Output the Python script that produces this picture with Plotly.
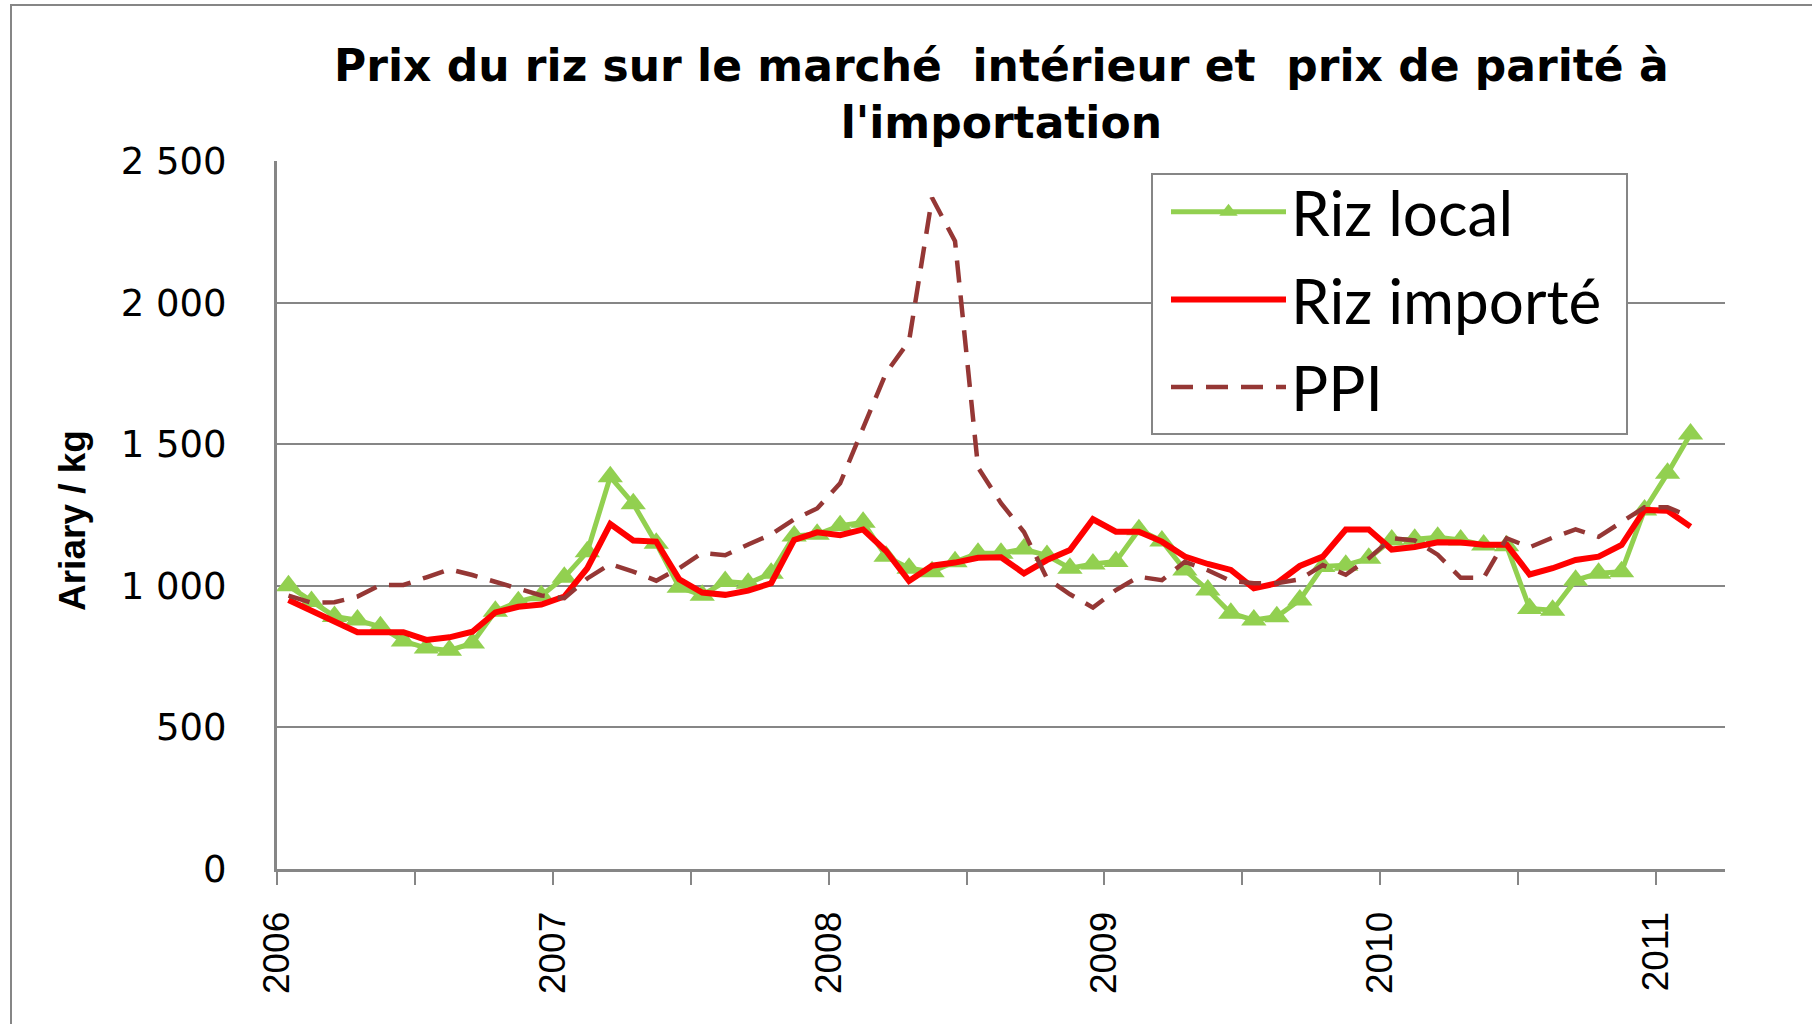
import plotly.graph_objects as go

# ---- data (monthly, Jan 2006 -> Feb 2011) ----
months = [f"{y}-{m:02d}" for y in range(2006, 2012) for m in range(1, 13)][:62]

riz_local = [1000, 945, 892, 879, 855, 805, 780, 772, 798, 910, 944, 965,
             1030, 1120, 1385, 1290, 1150, 995, 967, 1015, 1009, 1044, 1176, 1182,
             1212, 1224, 1104, 1062, 1050, 1085, 1115, 1115, 1130, 1107, 1062, 1077,
             1086, 1198, 1158, 1056, 985, 903, 879, 891, 950, 1068, 1073, 1097,
             1162, 1164, 1171, 1162, 1144, 1141, 920, 914, 1020, 1044, 1050, 1268,
             1397, 1536]

riz_importe = [950, 912, 873, 836, 836, 836, 809, 818, 838, 906, 926, 934,
               962, 1062, 1218, 1160, 1156, 1023, 976, 968, 983, 1009, 1162, 1189,
               1179, 1199, 1123, 1017, 1071, 1082, 1099, 1101, 1044, 1091, 1126, 1235,
               1191, 1191, 1156, 1103, 1077, 1056, 991, 1009, 1070, 1103, 1199, 1199,
               1128, 1137, 1154, 1153, 1145, 1145, 1040, 1062, 1091, 1103, 1144, 1268,
               1265, 1209]

ppi = [965, 940, 942, 962, 1003, 1003, 1030, 1058, 1038, 1015, 993, 966,
       956, 1026, 1077, 1050, 1018, 1062, 1116, 1108, 1146, 1181, 1235, 1273,
       1362, 1560, 1752, 1864, 2370, 2217, 1418, 1292, 1190, 1026, 970, 923,
       985, 1032, 1020, 1085, 1055, 1017, 1009, 1009, 1023, 1073, 1039, 1097,
       1168, 1160, 1110, 1028, 1028, 1168, 1136, 1170, 1199, 1173, 1226, 1277,
       1277, 1244]

year_labels = ["2006", "2007", "2008", "2009", "2010", "2011"]
y_tick_vals = [0, 500, 1000, 1500, 2000, 2500]
y_tick_text = ["0", "500", "1 000", "1 500", "2 000", "2 500"]

title_text = "Prix du riz sur le marché  intérieur et  prix de parité à<br>l'importation"
y_title = "Ariary / kg"

# positions: monthly points centred in each month slot
x_pos = [i + 0.5 for i in range(len(months))]
year_pos = [12 * k for k in range(len(year_labels))]

GREEN = "#92D050"
RED = "#FF0000"
BROWN = "#953735"
GRID = "#868686"

fig = go.Figure()
fig.add_trace(go.Scatter(
    x=x_pos, y=riz_local, customdata=months, name="Riz local",
    mode="lines+markers", legendgroup="a",
    line=dict(color=GREEN, width=5),
    marker=dict(symbol="triangle-up", size=22, color=GREEN),
    hovertemplate="%{customdata}: %{y}<extra>Riz local</extra>"))
fig.add_trace(go.Scatter(
    x=x_pos, y=riz_importe, customdata=months, name="Riz importé",
    mode="lines", legendgroup="b",
    line=dict(color=RED, width=6),
    hovertemplate="%{customdata}: %{y}<extra>Riz importé</extra>"))
fig.add_trace(go.Scatter(
    x=x_pos, y=ppi, customdata=months, name="PPI",
    mode="lines", legendgroup="c",
    line=dict(color=BROWN, width=4.5, dash="22px,13px"),
    hovertemplate="%{customdata}: %{y}<extra>PPI</extra>"))

L, R, T, B = 277, 87, 161, 155
W, H = 1812, 1024
pw, ph = W - L - R, H - T - B

def px_x(px):
    return (px - L) / pw

def px_y(py):
    return (H - B - py) / ph

fig.update_layout(
    width=W, height=H,
    margin=dict(l=L, r=R, t=T, b=B, pad=0),
    paper_bgcolor="white", plot_bgcolor="white",
    showlegend=True,
    legend=dict(x=px_x(1166), y=px_y(165), xanchor="left", yanchor="top",
                bgcolor="rgba(0,0,0,0)", borderwidth=0,
                font=dict(family="Lato", size=62, color="black"),
                itemwidth=115, tracegroupgap=4, traceorder="grouped"),
    xaxis=dict(range=[0, 63], tickmode="array", tickvals=year_pos, ticktext=year_labels,
               tickangle=-90, ticks="outside", ticklen=13, tickwidth=2, tickcolor=GRID,
               showgrid=False, zeroline=False, showline=True, linecolor=GRID, linewidth=3,
               tickfont=dict(family="Liberation Sans", size=37, color="black"),
               ticklabelstandoff=12,
               minor=dict(dtick=6, tick0=0, ticks="outside", ticklen=13, tickwidth=2,
                          tickcolor=GRID, showgrid=False)),
    yaxis=dict(range=[0, 2500], tickmode="array", tickvals=y_tick_vals, ticktext=y_tick_text,
               showgrid=True, gridcolor=GRID, gridwidth=2, zeroline=False,
               showline=True, linecolor=GRID, linewidth=3, ticks="",
               tickfont=dict(family="DejaVu Sans", size=37, color="black"),
               ticklabelstandoff=40),
    annotations=[
        dict(text="<b>" + title_text + "</b>", x=0.5, y=px_y(94),
             xref="paper", yref="paper", xanchor="center", yanchor="middle",
             showarrow=False,
             font=dict(family="DejaVu Sans", size=44, color="black")),
        dict(text="<b>" + y_title + "</b>", textangle=-90,
             x=px_x(72), y=px_y(520), xref="paper", yref="paper",
             xanchor="center", yanchor="middle", showarrow=False,
             font=dict(family="Liberation Sans", size=37, color="black"))],
    shapes=[
        dict(type="rect", xref="paper", yref="paper",
             x0=px_x(11), x1=px_x(1830), y0=px_y(1040), y1=px_y(5),
             line=dict(color=GRID, width=2), fillcolor="rgba(0,0,0,0)", layer="below"),
        dict(type="rect", xref="paper", yref="paper",
             x0=px_x(1152), x1=px_x(1627), y0=px_y(434), y1=px_y(174),
             line=dict(color=GRID, width=2), fillcolor="white", layer="above")],
)

fig.write_html("out.html", config={"displayModeBar": False},
               post_script="document.body.style.margin='0';")
